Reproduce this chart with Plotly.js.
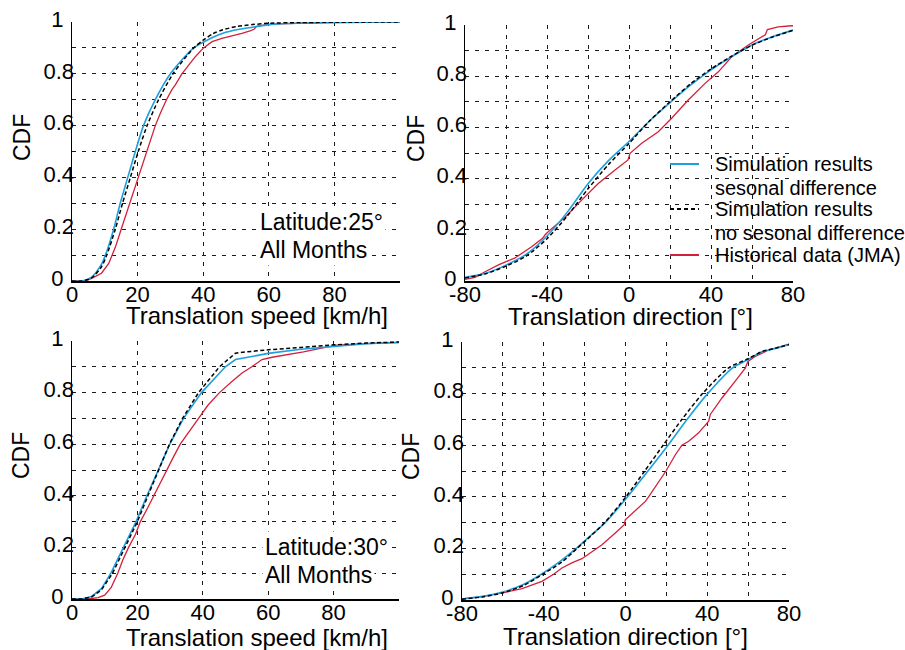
<!DOCTYPE html>
<html>
<head>
<meta charset="utf-8">
<script src="https://cdn.plot.ly/plotly-3.0.1.min.js"></script>
<style>html,body{margin:0;padding:0;background:#fff;}#chart{width:905px;height:650px;}</style>
</head>
<body>
<div id="chart"></div>
<script>
// ---------- Data ----------
const seriesNames = ['Simulation results sesonal difference', 'Simulation results no sesonal difference', 'Historical data (JMA)'];
const legendLines = [
  ['Simulation results', 'sesonal difference'],
  ['Simulation results', 'no sesonal difference'],
  ['Historical data (JMA)']
];

// Top-left: translation speed, latitude 25
const tlBlueX = [0, 3, 6, 9, 10.2, 12.7, 14.7, 17, 19.3, 21.8, 25.4, 30, 37.1, 42, 46, 51, 55, 60, 70, 80, 100];
const tlBlueY = [0, 0, 0.015, 0.065, 0.1, 0.2, 0.3, 0.4, 0.5, 0.6, 0.7, 0.8, 0.9, 0.935, 0.957, 0.972, 0.98, 0.99, 0.996, 0.998, 1];
const tlBlackX = [0, 3, 6, 9, 10.6, 13.2, 15.4, 17.8, 20.2, 22.9, 26.4, 30.8, 37.1, 40, 43, 46, 50, 55, 60, 70, 100];
const tlBlackY = [0, 0, 0.012, 0.055, 0.1, 0.2, 0.3, 0.4, 0.5, 0.6, 0.7, 0.8, 0.9, 0.93, 0.955, 0.97, 0.982, 0.99, 0.995, 0.998, 1];
const tlRedX = [0, 4, 6, 9, 11.2, 12.2, 13.2, 15, 16.3, 17.6, 19, 20.3, 21.6, 22.9, 24.2, 25.4, 27, 28.8, 30.5, 31.5, 33.5, 35.6, 37.6, 40.1, 42.7, 45.7, 48.8, 51.8, 54.3, 55.5, 56.3, 59.3, 65, 70, 80, 100];
const tlRedY = [0, 0, 0.01, 0.03, 0.068, 0.1, 0.13, 0.2, 0.25, 0.3, 0.35, 0.4, 0.45, 0.5, 0.55, 0.6, 0.65, 0.7, 0.74, 0.757, 0.8, 0.834, 0.866, 0.9, 0.924, 0.937, 0.946, 0.956, 0.966, 0.972, 0.983, 0.99, 0.994, 0.996, 0.998, 1];

// Top-right: translation direction, latitude 25
const trBlueX = [-80, -70, -60, -50, -40, -30, -20, -10, 0, 10, 20, 30, 40, 50, 60, 70, 80];
const trBlueY = [0.014, 0.030, 0.062, 0.105, 0.176, 0.270, 0.380, 0.470, 0.545, 0.625, 0.697, 0.765, 0.825, 0.876, 0.922, 0.954, 0.980];
const trBlackX = [-80, -70, -60, -50, -40, -30, -20, -10, 0, 10, 20, 30, 40, 50, 60, 70, 80];
const trBlackY = [0.012, 0.028, 0.058, 0.098, 0.165, 0.255, 0.360, 0.455, 0.537, 0.625, 0.700, 0.770, 0.828, 0.878, 0.921, 0.953, 0.979];
const trRedX = [-80, -75.1, -70.2, -63.7, -55.6, -47.5, -42, -41, -39.3, -31.2, -23.1, -15, -6.8, -0.5, 0.5, 6.2, 14.3, 20.8, 28.9, 37.1, 43.6, 50.1, 58.2, 64.7, 66.5, 67.5, 72.8, 79.3, 80];
const trRedY = [0.006, 0.014, 0.036, 0.063, 0.09, 0.134, 0.168, 0.18, 0.193, 0.249, 0.316, 0.381, 0.434, 0.473, 0.499, 0.538, 0.583, 0.636, 0.707, 0.772, 0.817, 0.876, 0.922, 0.954, 0.962, 0.982, 0.993, 0.997, 0.997];

// Bottom-left: translation speed, latitude 30
const blBlueX = [0, 3, 6, 9, 11.9, 15.8, 19.6, 22.9, 26.3, 29.9, 34.1, 39.6, 46.9, 50, 55, 60, 70, 80, 90, 100];
const blBlueY = [0, 0, 0.01, 0.04, 0.1, 0.2, 0.3, 0.4, 0.5, 0.6, 0.7, 0.8, 0.9, 0.928, 0.94, 0.952, 0.968, 0.98, 0.99, 0.995];
const blBlackX = [0, 3, 6, 9, 12.4, 16.3, 20, 23.2, 26.5, 29.8, 33.8, 38.7, 45.1, 50, 55, 60, 70, 80, 90, 100];
const blBlackY = [0, 0, 0.008, 0.035, 0.1, 0.2, 0.3, 0.4, 0.5, 0.6, 0.7, 0.8, 0.9, 0.953, 0.96, 0.966, 0.975, 0.985, 0.992, 0.996];
const blRedX = [0, 5, 8, 10, 12, 14, 15.5, 17.3, 19.4, 20.9, 23, 25, 27, 28.8, 31, 33.1, 36, 38.7, 41.5, 45.1, 48.9, 52, 55, 58.1, 61.2, 65, 70.8, 75.9, 81, 90, 100];
const blRedY = [0, 0, 0.005, 0.015, 0.045, 0.1, 0.15, 0.2, 0.25, 0.3, 0.35, 0.4, 0.45, 0.5, 0.55, 0.6, 0.65, 0.7, 0.75, 0.8, 0.843, 0.876, 0.9, 0.928, 0.937, 0.945, 0.958, 0.971, 0.984, 0.99, 0.994];

// Bottom-right: translation direction, latitude 30
const brBlueX = [-80, -70, -60, -50, -41.2, -32, -24.1, -17, -9.9, 1, 11, 20.8, 30.1, 40.2, 52.4, 60, 66.8, 73.3, 80];
const brBlueY = [0.004, 0.014, 0.031, 0.06, 0.1, 0.15, 0.2, 0.25, 0.3, 0.4, 0.5, 0.6, 0.7, 0.8, 0.9, 0.932, 0.962, 0.975, 0.99];
const brBlackX = [-80, -70, -60, -50, -40.4, -31, -23.7, -17, -10.2, 0.2, 9.4, 18.4, 27.6, 37.7, 50.5, 60, 66.8, 73.3, 80];
const brBlackY = [0.003, 0.012, 0.028, 0.056, 0.1, 0.148, 0.2, 0.248, 0.3, 0.4, 0.5, 0.6, 0.7, 0.8, 0.9, 0.935, 0.963, 0.976, 0.99];
const brRedX = [-80, -70.2, -60.1, -50.6, -40.9, -35.2, -31.1, -26, -21.3, -14, -11.5, -5, -0.6, -0.1, 5, 9.7, 11.3, 17.8, 19.8, 24.4, 27.6, 30.9, 35.8, 40.7, 41.5, 47.2, 48.8, 53.7, 58.6, 59.9, 63.5, 70, 80];
const brRedY = [0.004, 0.013, 0.028, 0.044, 0.072, 0.1, 0.124, 0.145, 0.16, 0.2, 0.214, 0.26, 0.292, 0.311, 0.35, 0.382, 0.4, 0.473, 0.5, 0.563, 0.6, 0.615, 0.648, 0.693, 0.719, 0.783, 0.8, 0.848, 0.899, 0.925, 0.944, 0.969, 0.992];

// Ticks (every grid line is a tick; only some carry a label).
// Short labels get a trailing pad so the column reads centred, as in the reference.
const yTickVals = [0, 0.1, 0.2, 0.3, 0.4, 0.5, 0.6, 0.7, 0.8, 0.9, 1];
const yTickText = ['0\u00a0\u2009', '', '0.2', '', '0.4', '', '0.6', '', '0.8', '', '1\u00a0\u2009'];
const speedTickVals = [0, 20, 40, 60, 80, 100];
const speedTickText = ['0', '20', '40', '60', '80', ''];
const dirTickVals = [-80, -60, -40, -20, 0, 20, 40, 60, 80];
const dirTickText = ['-80', '', '-40', '', '0', '', '40', '', '80'];

// ---------- Styles ----------
const BLUE = '#1ea0df', RED = '#d2203c', BLACK = '#000000';
const FONT = 'Liberation Sans, Arial, Helvetica, sans-serif';
const LSTYLE = [
  {color: BLUE, width: 1.6},
  {color: BLACK, width: 1.5, dash: '4px,2.5px'},
  {color: RED, width: 1.3}
];

function mk(x, y, axes, idx, smooth) {
  const line = Object.assign({}, LSTYLE[idx]);
  if (smooth) { line.shape = 'spline'; line.smoothing = 0.7; }
  return {
    x: x, y: y, xaxis: 'x' + axes, yaxis: 'y' + axes,
    type: 'scatter', mode: 'lines', line: line,
    name: seriesNames[idx], showlegend: false, hoverinfo: 'skip'
  };
}

const traces = [
  mk(tlRedX, tlRedY, '', 2, false),
  mk(tlBlueX, tlBlueY, '', 0, true),
  mk(tlBlackX, tlBlackY, '', 1, true),
  mk(trRedX, trRedY, '2', 2, false),
  mk(trBlueX, trBlueY, '2', 0, true),
  mk(trBlackX, trBlackY, '2', 1, true),
  mk(blRedX, blRedY, '3', 2, false),
  mk(blBlueX, blBlueY, '3', 0, false),
  mk(blBlackX, blBlackY, '3', 1, false),
  mk(brRedX, brRedY, '4', 2, false),
  mk(brBlueX, brBlueY, '4', 0, true),
  mk(brBlackX, brBlackY, '4', 1, true)
];

const W = 905, H = 650;
const px = v => v / W;
const py = v => 1 - v / H;

const GRID = {gridcolor: '#1a1a1a', gridwidth: 1, griddash: '4px,6px'};
const TICKFONT = {size: 22, color: '#000', family: FONT};
function yAxis(top, bottom, anchor) {
  return Object.assign({
    domain: [py(bottom), py(top)], range: [0, 1], anchor: anchor,
    tickmode: 'array', tickvals: yTickVals, ticktext: yTickText,
    showline: true, linecolor: '#000', linewidth: 1.5, zeroline: false,
    showgrid: true, ticks: '', ticklabelstandoff: -8, ticklabelshift: -3, fixedrange: true,
    tickfont: TICKFONT
  }, GRID);
}
function xAxis(left, right, range, tickvals, ticktext, anchor) {
  return Object.assign({
    domain: [px(left), px(right)], range: range, anchor: anchor,
    tickmode: 'array', tickvals: tickvals, ticktext: ticktext,
    showline: true, linecolor: '#000', linewidth: 1.5, zeroline: false,
    showgrid: true, ticks: '', ticklabelstandoff: -7, fixedrange: true,
    tickfont: TICKFONT
  }, GRID);
}

function ann(text, x, y, opts) {
  return Object.assign({
    text: text, xref: 'paper', yref: 'paper', x: px(x), y: py(y),
    showarrow: false, xanchor: 'center', yanchor: 'middle',
    font: {size: 23, color: '#000', family: FONT}
  }, opts || {});
}

// Legend (drawn in the top-right panel): key lines + text rows
const legKeyX0 = 670, legKeyX1 = 699, legTextX = 713;
const legRowY = [[164, 188], [209, 233], [255]];
const legendShapes = [{
  type: 'rect', xref: 'paper', yref: 'paper', layer: 'between',
  x0: px(650), x1: px(905), y0: py(270), y1: py(144),
  fillcolor: '#fff', line: {width: 0}
}];
const legendAnns = [];
legendLines.forEach((lines, i) => {
  const ky = legRowY[i][0];
  legendShapes.push({
    type: 'line', xref: 'paper', yref: 'paper', layer: 'above',
    x0: px(legKeyX0), x1: px(legKeyX1), y0: py(ky), y1: py(ky),
    line: {color: LSTYLE[i].color, width: 2, dash: LSTYLE[i].dash ? '4px,3px' : 'solid'}
  });
  lines.forEach((t, j) => {
    legendAnns.push(ann(t, legTextX, legRowY[i][j], {xanchor: 'left', font: {size: 20, color: '#000', family: FONT}}));
  });
});

const boxed = {xanchor: 'left', bgcolor: '#fff', borderpad: 2};
const TITLEFONT = {size: 24, color: '#000', family: FONT};

const layout = {
  width: W, height: H,
  margin: {l: 0, r: 0, t: 0, b: 0},
  paper_bgcolor: '#fff', plot_bgcolor: '#fff',
  font: {family: FONT, color: '#000'},
  showlegend: false,
  xaxis: xAxis(72, 400, [0, 100], speedTickVals, speedTickText, 'y'),
  yaxis: yAxis(22, 281, 'x'),
  xaxis2: xAxis(465, 793, [-80, 80], dirTickVals, dirTickText, 'y2'),
  yaxis2: yAxis(25, 281, 'x2'),
  xaxis3: xAxis(72, 399, [0, 100], speedTickVals, speedTickText, 'y3'),
  yaxis3: yAxis(341, 599, 'x3'),
  xaxis4: xAxis(462, 789, [-80, 80], dirTickVals, dirTickText, 'y4'),
  yaxis4: yAxis(342, 600, 'x4'),
  shapes: legendShapes,
  annotations: [
    ann('CDF', 22, 138, {textangle: -90}),
    ann('CDF', 416, 139, {textangle: -90}),
    ann('CDF', 21, 456, {textangle: -90}),
    ann('CDF', 411, 457, {textangle: -90}),
    ann('Translation speed [km/h]', 257, 315, {font: TITLEFONT}),
    ann('Translation direction [°]', 630, 316, {font: TITLEFONT}),
    ann('Translation speed [km/h]', 257, 637, {font: TITLEFONT}),
    ann('Translation direction [°]', 625, 636, {font: TITLEFONT}),
    ann('Latitude:25°', 257, 222, boxed),
    ann('All Months', 257, 250, boxed),
    ann('Latitude:30°', 262, 547, boxed),
    ann('All Months', 262, 575, boxed)
  ].concat(legendAnns)
};

Plotly.newPlot('chart', traces, layout, {displayModeBar: false, staticPlot: true});
</script>
</body>
</html>
